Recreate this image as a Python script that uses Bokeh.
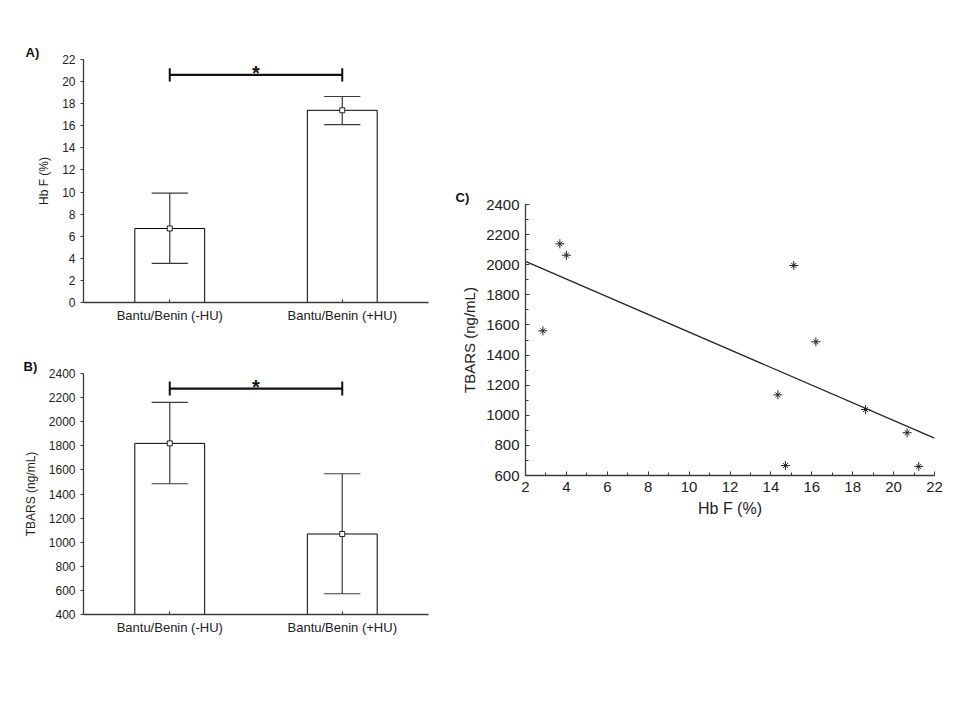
from bokeh.plotting import figure
from bokeh.layouts import row, column
from bokeh.models import (FixedTicker, SingleIntervalTicker, Range1d, Label, Spacer)
from bokeh.embed import file_html
from bokeh.resources import INLINE

# ---------------- data ----------------
groups = ["Bantu/Benin (-HU)", "Bantu/Benin (+HU)"]
hbf_mean = [6.7, 17.4]
hbf_low = [3.55, 16.1]
hbf_high = [9.9, 18.65]
hbf_sig_level = 20.6

tbars_mean = [1820, 1068]
tbars_low = [1485, 572]
tbars_high = [2160, 1568]
tbars_sig_level = 2275

scatter_hbf = [3.68, 4.0, 2.85, 15.12, 16.2, 14.34, 18.63, 20.66, 14.71, 21.23]
scatter_tbars = [2139, 2063, 1561, 1995, 1488, 1136, 1038, 884, 666, 660]
fit_hbf = [2, 22]
fit_tbars = [2022, 848]

FONT = "Liberation Sans"
AXC = "#3a3a3a"
TXT = "#222222"

xpos = [i + 0.5 for i in range(len(groups))]


def style_axes(p, tick_size, label_size):
    for ax in (p.xaxis[0], p.yaxis[0]):
        ax.axis_line_color = AXC
        ax.axis_line_width = 1.3
        ax.major_tick_line_color = AXC
        ax.minor_tick_line_color = AXC
        ax.major_label_text_font = FONT
        ax.major_label_text_font_size = tick_size
        ax.major_label_text_color = TXT
        ax.axis_label_text_font = FONT
        ax.axis_label_text_font_size = label_size
        ax.axis_label_text_font_style = "normal"
        ax.axis_label_text_color = TXT
    p.xgrid.visible = False
    p.ygrid.visible = False
    p.outline_line_color = None


def panel_letter(p, letter, frame_left, letter_x):
    p.title.text = letter
    p.title.align = "left"
    p.title.offset = letter_x - frame_left
    p.title.text_font = FONT
    p.title.text_font_size = "13px"
    p.title.text_font_style = "bold"
    p.title.text_color = "#111111"
    p.title.standoff = 0


def bar_panel(means, lows, highs, sig, y0, y1, ystep, ylabel, w, h, borders, letter, letter_x,
              bracket_half, star_off):
    p = figure(width=w, height=h, output_backend="svg", toolbar_location=None,
               x_range=Range1d(0, len(groups)), y_range=Range1d(y0, y1),
               min_border_left=borders[0], min_border_right=borders[1],
               min_border_top=borders[2], min_border_bottom=borders[3])
    style_axes(p, "12px", "12px")
    p.xaxis.ticker = FixedTicker(ticks=xpos)
    p.xaxis.major_label_overrides = {x: g for x, g in zip(xpos, groups)}
    p.xaxis.major_label_text_font_size = "13px"
    p.xaxis.major_tick_in = 3
    p.xaxis.major_tick_out = 0
    p.xaxis.minor_tick_line_color = None
    p.yaxis.ticker = SingleIntervalTicker(interval=ystep, num_minor_ticks=0)
    p.yaxis.major_tick_in = 0
    p.yaxis.major_tick_out = 3
    p.yaxis.axis_label = ylabel
    p.yaxis.axis_label_standoff = 8

    p.vbar(x=xpos, top=means, bottom=y0, width=0.405, fill_color="white",
           line_color="black", line_width=1)
    cap = 0.105
    p.segment(x0=xpos, y0=lows, x1=xpos, y1=highs, line_color=AXC, line_width=1.2)
    p.segment(x0=[x - cap for x in xpos], y0=lows, x1=[x + cap for x in xpos], y1=lows,
              line_color=AXC, line_width=1.2)
    p.segment(x0=[x - cap for x in xpos], y0=highs, x1=[x + cap for x in xpos], y1=highs,
              line_color=AXC, line_width=1.2)
    p.scatter(x=xpos, y=means, marker="square", size=5, fill_color="white",
              line_color="#222222", line_width=1)

    # significance bracket
    p.segment(x0=[xpos[0]], y0=[sig], x1=[xpos[1]], y1=[sig], line_color="#111111", line_width=2.2)
    p.segment(x0=[xpos[0], xpos[1]], y0=[sig - bracket_half] * 2, x1=[xpos[0], xpos[1]],
              y1=[sig + bracket_half] * 2, line_color="#111111", line_width=2)
    p.add_layout(Label(x=sum(xpos) / 2, y=sig, y_offset=star_off, text="*", text_align="center",
                       text_baseline="middle", text_font=FONT, text_font_size="20px",
                       text_font_style="bold", text_color="#111111"))
    panel_letter(p, letter, borders[0], letter_x)
    return p


pA = bar_panel(hbf_mean, hbf_low, hbf_high, hbf_sig_level, 0, 22, 2, "Hb F (%)",
               445, 338, (78, 7, 59, 36), "A)", 20, 0.6, 2)
pB = bar_panel(tbars_mean, tbars_low, tbars_high, tbars_sig_level, 400, 2400, 200,
               "TBARS (ng/mL)", 445, 312, (83, 17, 35, 36), "B)", 23, 58, 2)

# ---------------- panel C ----------------
pC = figure(width=505, height=352, output_backend="svg", toolbar_location=None,
            x_range=Range1d(2, 22), y_range=Range1d(600, 2400),
            min_border_left=80, min_border_right=16, min_border_top=26, min_border_bottom=55)
style_axes(pC, "15px", "16px")
pC.xaxis.ticker = SingleIntervalTicker(interval=2, num_minor_ticks=2)
pC.yaxis.ticker = SingleIntervalTicker(interval=200, num_minor_ticks=2)
for ax in (pC.xaxis[0], pC.yaxis[0]):
    ax.major_tick_in = 4
    ax.major_tick_out = 0
    ax.minor_tick_in = 3
    ax.minor_tick_out = 0
    ax.major_label_standoff = 6
pC.xaxis.axis_label = "Hb F (%)"
pC.yaxis.axis_label = "TBARS (ng/mL)"
pC.yaxis.axis_label_text_font_size = "15px"
pC.line(x=fit_hbf, y=fit_tbars, line_color="#222222", line_width=1.2)
pC.scatter(x=scatter_hbf, y=scatter_tbars, marker="cross", size=9, line_color="#222222", line_width=1)
pC.scatter(x=scatter_hbf, y=scatter_tbars, marker="x", size=7, line_color="#222222", line_width=1)
panel_letter(pC, "C)", 80, 10)

layout = row(column(pA, pB), column(Spacer(width=505, height=178), pC))

with open("out.html", "w") as f:
    f.write(file_html(layout, INLINE))
